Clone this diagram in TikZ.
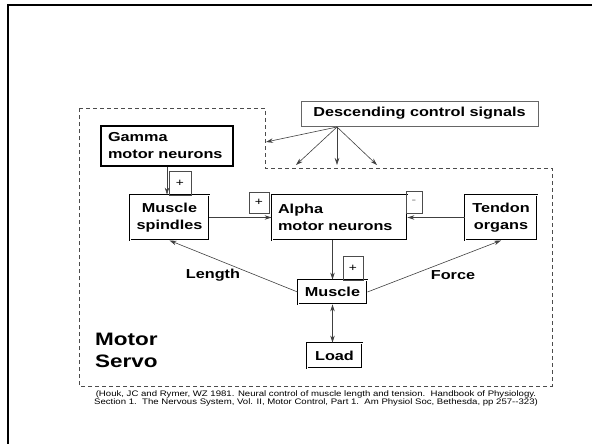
\documentclass[tikz,border=0pt]{standalone}
\usepackage{fontspec}
\newfontfamily\labelfont{Liberation Sans}[FakeStretch=1.25]
\newfontfamily\notefont{Liberation Sans}[FakeStretch=1.2]
\usetikzlibrary{arrows.meta, positioning}

\tikzset{
  block/.style={draw, double, double distance=1pt, line width=0.9pt, rectangle, inner sep=0pt,
    font=\labelfont\bfseries\fontsize{13}{17}\selectfont},
  gammabox/.style={draw, line width=1.5pt, rectangle, inner xsep=7pt, inner ysep=0pt, align=left,
    minimum height=40pt, font=\labelfont\bfseries\fontsize{13}{17}\selectfont},
  descbox/.style={draw=black!60, line width=0.7pt, rectangle, inner sep=0pt,
    font=\labelfont\bfseries\fontsize{13}{17}\selectfont},
  signbox/.style={draw=black!70, line width=0.6pt, rectangle, inner sep=0pt,
    font=\labelfont\fontsize{11}{11}\selectfont},
  lbl/.style={inner sep=0pt, font=\labelfont\bfseries\fontsize{13}{17}\selectfont},
  arr/.style={draw=black!75, line width=0.6pt, -{Stealth[length=7pt,width=4.5pt]}},
}

\begin{document}
\begin{tikzpicture}[x=1pt, y=-1pt]
  \useasboundingbox (0,0) rectangle (592,444);

  % page frame (left and top edges only)
  \draw[line width=2.4pt] (8,444) -- (8,5) -- (592,5);

  % the motor servo region
  \draw[draw=black!70, line width=0.7pt, dash pattern=on 4pt off 3pt]
    (79,108) -- (265,108) -- (265,168) -- (552,168) -- (552,386) -- (79,386) -- cycle;

  % blocks
  \node[descbox, minimum width=237pt, minimum height=25pt] (desc) at (419.5,113.5) {Descending control signals};
  \node[gammabox, text width=118pt] (gamma) at (167,146) {Gamma\\motor neurons};
  \node[block, minimum width=79pt, minimum height=45pt, align=center] (spindles) at (169.5,217.5) {Muscle\\spindles};
  \node[block, text width=123pt, inner xsep=6pt, minimum height=45pt, align=left] (alpha) at (339.5,217.5) {Alpha\\motor neurons};
  \node[block, minimum width=72pt, minimum height=45pt, align=center] (tendon) at (501,217.5) {Tendon\\organs};
  \node[block, minimum width=69pt, minimum height=24pt] (muscle) at (332.5,292) {Muscle};
  \node[block, minimum width=55pt, minimum height=25pt] (load) at (334.5,355.5) {Load};

  % signs on the inputs
  \node[signbox, minimum width=22pt, minimum height=24pt] (gplus) at (180,183) {+};
  \node[signbox, minimum width=20pt, minimum height=21pt] (splus) at (259,202.5) {+};
  \node[signbox, minimum width=16pt, minimum height=22pt, text=black!50] (aminus) at (414,202) {-};
  \node[signbox, minimum width=20pt, minimum height=24pt] (mplus) at (353,268) {+};

  % labels
  \node[lbl] (length) at (213,275) {Length};
  \node[lbl] (force) at (453,275) {Force};
  \node[anchor=north west, inner sep=0pt, align=left, font=\labelfont\bfseries\fontsize{18}{22}\selectfont]
    (servo) at (95,333) {Motor\\Servo};
  \node[inner sep=0pt, align=center, font=\notefont\fontsize{8}{8.5}\selectfont] (cite) at (316,398.5)
    {(Houk, JC and Rymer, WZ 1981. Neural control of muscle length and tension.\ \ Handbook of Physiology.\\
     Section 1.\ \ The Nervous System, Vol. II, Motor Control, Part 1.\ \ Am Physiol Soc, Bethesda, pp 257--323)};

  % connections
  \draw[arr] (gamma.south) -- (gamma.south |- spindles.north);
  \draw[arr] (spindles.east) -- (alpha.west);
  \draw[arr] (tendon.west) -- (alpha.east);
  \draw[arr] (alpha.south -| muscle.north) -- (muscle.north);
  \draw[arr, {Stealth[length=7pt,width=4.5pt]}-{Stealth[length=7pt,width=4.5pt]}] (muscle.south) -- (muscle.south |- load.north);
  \draw[arr] (muscle.west) -- (spindles.south);
  \draw[arr] (muscle.east) -- (tendon.south);

  % descending signals fan out
  \coordinate (dsrc) at (337,127);
  \coordinate (dleft) at (266,142);
  \coordinate (dmidl) at (296,165);
  \coordinate (dmid) at (337,165);
  \coordinate (dmidr) at (377,165);
  \foreach \tgt in {dleft, dmidl, dmid, dmidr}
    \draw[arr] (dsrc) -- (\tgt);
\end{tikzpicture}
\end{document}
